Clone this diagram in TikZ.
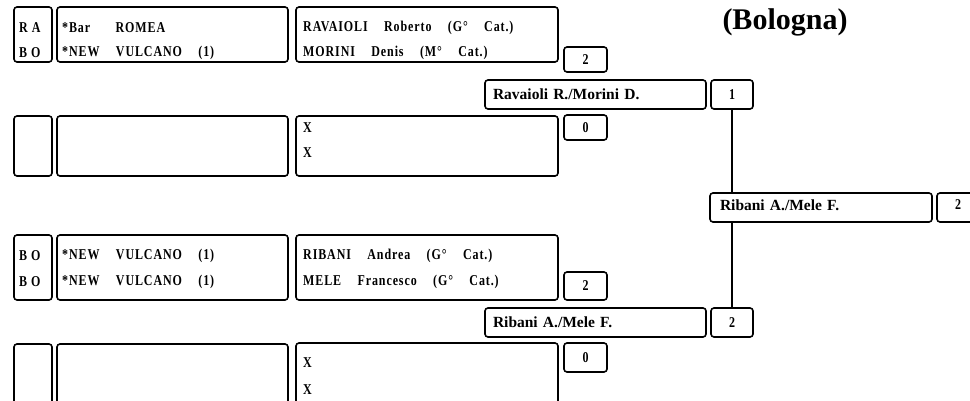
\documentclass[tikz,border=0pt]{standalone}
\usepackage{fontspec}
\setmainfont{Liberation Serif}
\newfontfamily\cellfont[FakeStretch=0.8,LetterSpace=6,WordSpace=4.2]{Liberation Serif}

\begin{document}
\begin{tikzpicture}[x=1pt,y=-1pt,
    case/.style={draw,line width=1.6pt,rounded corners=3pt,inner sep=0pt,outer sep=0pt,anchor=north west},
    code/.style={case,minimum width=38pt},
    club/.style={case,minimum width=231pt},
    joueurs/.style={case,minimum width=262pt},
    score/.style={case,minimum width=43pt,font=\cellfont\bfseries\fontsize{15}{16}\selectfont},
    vainqueur/.style={case,minimum height=29pt,inner xsep=8pt,text width=205pt,align=left,
        font=\bfseries\fontsize{15.5}{17}\selectfont},
    ligne/.style={anchor=west,inner sep=0pt,font=\cellfont\bfseries\fontsize{15}{16}\selectfont},
    trait/.style={line width=2pt}]
\useasboundingbox (0,0) rectangle (970,401);
\clip (0,0) rectangle (970,401);

% Titre
\node[font=\bfseries\fontsize{30}{32}\selectfont] (titre) at (785,22) {(Bologna)};

% Premier match
\node[code,minimum height=55pt] (codeA) at (14,7) {};
\node[club,minimum height=55pt] (clubA) at (57,7) {};
\node[joueurs,minimum height=55pt] (joueursA) at (296,7) {};
\node[ligne] (codeA1) at (19,28) {R\kern4pt A};
\node[ligne] (codeA2) at (19,53) {B\kern4pt O};
\node[ligne] (clubA1) at (62,28) {*Bar\kern9pt\ ROMEA};
\node[ligne] (clubA2) at (62,53) {*NEW VULCANO (1)};
\node[ligne] (joueursA1) at (303,28) {RAVAIOLI Roberto (G° Cat.)};
\node[ligne] (joueursA2) at (303,53) {MORINI Denis (M° Cat.)};
\node[score,minimum height=25pt] (scoreA) at (564,47) {2};

\node[code,minimum height=60pt] (codeB) at (14,116) {};
\node[club,minimum height=60pt] (clubB) at (57,116) {};
\node[joueurs,minimum height=60pt] (joueursB) at (296,116) {};
\node[ligne] (joueursB1) at (303,128) {X};
\node[ligne] (joueursB2) at (303,153) {X};
\node[score,minimum height=25pt] (scoreB) at (564,115) {0};

\node[vainqueur] (demi1) at (485,80) {Ravaioli R./Morini D.};
\node[score,minimum height=29pt,minimum width=42pt] (demi1s) at (711,80) {1};

% Second match
\node[code,minimum height=65pt] (codeC) at (14,235) {};
\node[club,minimum height=65pt] (clubC) at (57,235) {};
\node[joueurs,minimum height=65pt] (joueursC) at (296,235) {};
\node[ligne] (codeC1) at (19,256) {B\kern4pt O};
\node[ligne] (codeC2) at (19,282) {B\kern4pt O};
\node[ligne] (clubC1) at (62,256) {*NEW VULCANO (1)};
\node[ligne] (clubC2) at (62,282) {*NEW VULCANO (1)};
\node[ligne] (joueursC1) at (303,256) {RIBANI Andrea (G° Cat.)};
\node[ligne] (joueursC2) at (303,282) {MELE Francesco (G° Cat.)};
\node[score,minimum height=28pt] (scoreC) at (564,272) {2};

\node[code,minimum height=70pt] (codeD) at (14,344) {};
\node[club,minimum height=70pt] (clubD) at (57,344) {};
\node[joueurs,minimum height=70pt] (joueursD) at (296,343) {};
\node[ligne] (joueursD1) at (303,363) {X};
\node[ligne] (joueursD2) at (303,390) {X};
\node[score,minimum height=29pt] (scoreD) at (564,343) {0};

\node[vainqueur] (demi2) at (485,308) {Ribani A./Mele F.};
\node[score,minimum height=29pt,minimum width=42pt] (demi2s) at (711,308) {2};

% Finale
\node[vainqueur,inner xsep=10pt,text width=202pt] (finale) at (710,193) {\raisebox{5pt}{Ribani A./Mele F.}};
\node[score,minimum height=29pt,minimum width=42pt] (finales) at (937,193) {\raisebox{5pt}{2}};

\draw[trait] (demi1s.south) -- (demi1s.south |- finale.north);
\draw[trait] (demi2s.north |- finale.south) -- (demi2s.north);
\end{tikzpicture}
\end{document}
